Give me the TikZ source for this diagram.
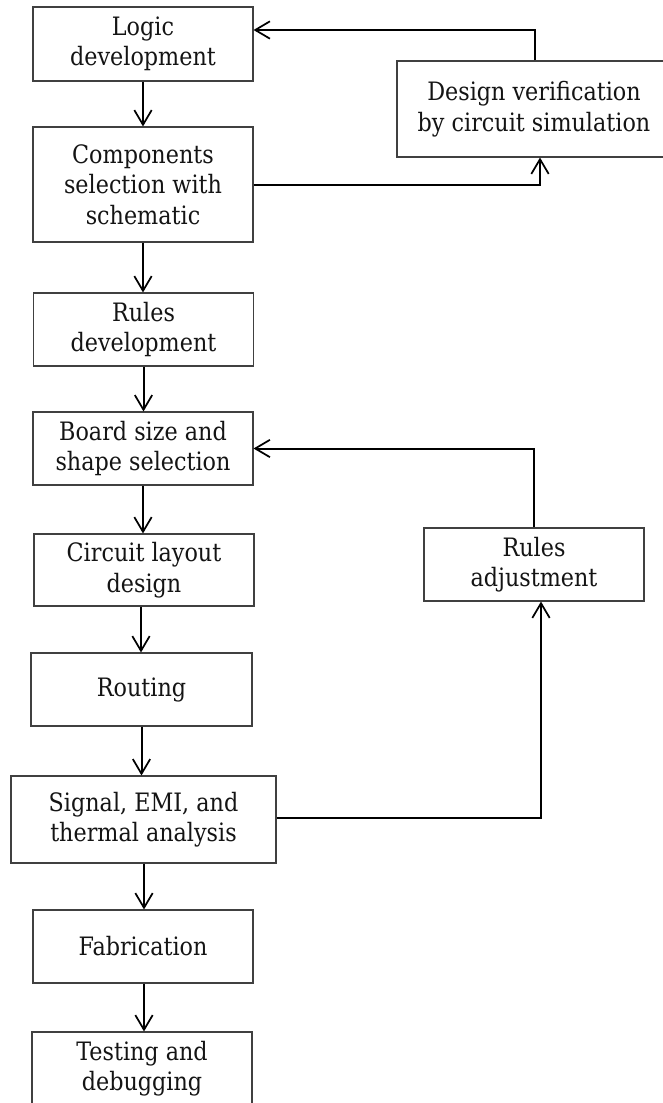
\documentclass[tikz,border=0pt]{standalone}
\usepackage{fontspec}
\setmainfont{DejaVu Serif}[FakeStretch=0.88]
\usetikzlibrary{arrows.meta,calc}
\begin{document}
\begin{tikzpicture}[x=0.75pt,y=-0.75pt,
  stage/.style={draw=black!75, line width=0.8pt, rectangle, inner sep=0pt,
    align=center, text=black!92,
    font=\fontsize{19pt}{22.9pt}\selectfont,
    minimum width=165pt, minimum height=54.75pt},
  flow/.style={line width=1.5pt, black,
    -{Straight Barb[length=11pt,width=13pt,line width=1.3pt]}}]

% page
\fill[white] (0,0) rectangle (663,1103);
\useasboundingbox (0,0) rectangle (663,1103);

% main chain of stages
\node[stage, minimum height=55.5pt] (logic) at (143,44) {Logic\\development};
\node[stage, minimum height=86.25pt] (comp) at (143,184.5) {Components\\selection with\\schematic};
\node[stage] (rules) at (143.5,329.5) {Rules\\development};
\node[stage] (board) at (143,448.5) {Board size and\\shape selection};
\node[stage, minimum height=54pt] (layout) at (144,570) {Circuit layout\\design};
\node[stage, minimum width=165.75pt] (routing) at (141.5,689.5) {Routing};
\node[stage, minimum width=198.75pt, minimum height=65.25pt] (signal) at (143.5,819.5) {Signal, EMI, and\\thermal analysis};
\node[stage] (fab) at (143,946.5) {Fabrication};
\node[stage] (test) at (142,1068.5) {Testing and\\debugging};

% side loops
\node[stage, minimum width=205.5pt, minimum height=72pt] (verify) at (534,109) {Design verification\\by circuit simulation};
\node[stage] (adjust) at (534,564.5) {Rules\\adjustment};

% start points of the shifted arrows
\coordinate (layoutout) at ($(layout.south)+(-3,0)$);
\coordinate (signalout) at ($(signal.south)+(0.5,0)$);
\coordinate (fabout) at ($(fab.south)+(1,0)$);
\coordinate (verifyin) at ($(verify.south)+(6,0)$);
\coordinate (verifyout) at ($(verify.north)+(1,0)$);
\coordinate (logicin) at ($(logic.east)+(0,-14)$);
\coordinate (signalright) at ($(signal.east)+(0,-1.5)$);
\coordinate (adjustin) at ($(adjust.south)+(7,0)$);

% downward flow
\draw[flow] (logic.south) -- (logic.south |- comp.north);
\draw[flow] (comp.south) -- (comp.south |- rules.north);
\draw[flow] (rules.south) -- (rules.south |- board.north);
\draw[flow] (board.south) -- (board.south |- layout.north);
\draw[flow] (layoutout) -- (layoutout |- routing.north);
\draw[flow] (routing.south) -- (routing.south |- signal.north);
\draw[flow] (signalout) -- (signalout |- fab.north);
\draw[flow] (fabout) -- (fabout |- test.north);

% verification loop
\draw[flow] (comp.east) -| (verifyin);
\draw[flow] (verifyout) |- (logicin);

% rules adjustment loop
\draw[flow] (signalright) -| (adjustin);
\draw[flow] (adjust.north) |- (board.east);
\end{tikzpicture}
\end{document}
